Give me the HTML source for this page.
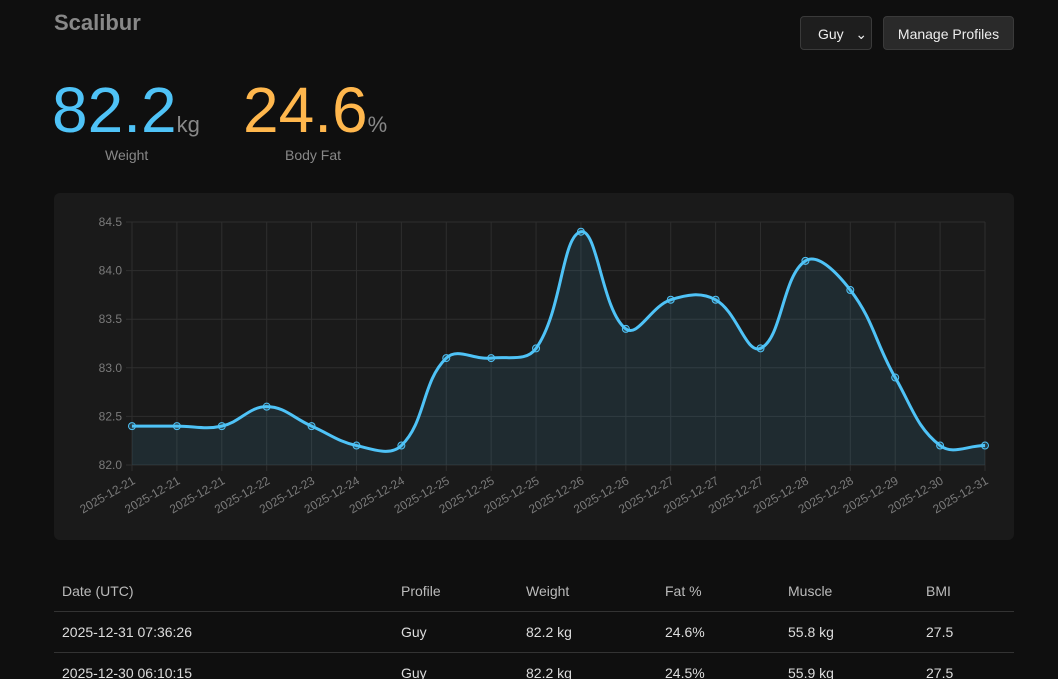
<!DOCTYPE html>
<html><head><meta charset="utf-8">
<style>
html,body{margin:0;height:679px;overflow:hidden}
body{background:#0f0f0f;width:1058px;font-family:"Liberation Sans",sans-serif;color:#ddd;position:relative}
.abs{position:absolute}
h1{position:absolute;left:54px;top:10px;margin:0;font-size:22px;font-weight:bold;color:#888}
.sel{left:800px;top:16px;width:72px;height:34px;border:1px solid #3a3a3a;background:#1e1e1e;border-radius:4px;box-sizing:border-box;font-size:14px;color:#eee;padding:9px 0 0 17px}
.btn{left:883px;top:16px;width:131px;height:34px;border:1px solid #3a3a3a;background:#2a2a2a;border-radius:4px;box-sizing:border-box;font-size:14px;color:#eee;text-align:center;padding-top:9px}
.big{font-size:64px;top:75px;line-height:70px}
.unit{font-size:22px;color:#888}
.lbl{font-size:14px;color:#888;top:147px}
.card{left:54px;top:193px;width:960px;height:347px;background:#1a1a1a;border-radius:6px}
table{position:absolute;left:54px;top:571px;width:960px;border-collapse:collapse;font-size:14px}
td,th{text-align:left;padding:0 8px;height:40px;border-bottom:1px solid #333;color:#ddd;font-weight:normal}
th{color:#bbb}
</style></head><body>
<h1>Scalibur</h1>
<div class="abs sel">Guy&nbsp;&nbsp;&nbsp;&#8964;</div>
<div class="abs btn">Manage Profiles</div>
<div class="abs big" style="left:52px;color:#4fc3f7">82.2<span class="unit">kg</span></div>
<div class="abs lbl" style="left:105px">Weight</div>
<div class="abs big" style="left:243px;color:#ffb74d">24.6<span class="unit">%</span></div>
<div class="abs lbl" style="left:285px">Body Fat</div>
<div class="abs card">
<svg id="ch" width="960" height="347"></svg>
</div>
<table>
<tr><th style="width:323px">Date (UTC)</th><th style="width:109px">Profile</th><th style="width:123px">Weight</th><th style="width:107px">Fat %</th><th style="width:122px">Muscle</th><th>BMI</th></tr>
<tr><td>2025-12-31 07:36:26</td><td>Guy</td><td>82.2 kg</td><td>24.6%</td><td>55.8 kg</td><td>27.5</td></tr>
<tr><td>2025-12-30 06:10:15</td><td>Guy</td><td>82.2 kg</td><td>24.5%</td><td>55.9 kg</td><td>27.5</td></tr>
</table>
<script>
const labels=["2025-12-21","2025-12-21","2025-12-21","2025-12-22","2025-12-23","2025-12-24","2025-12-24","2025-12-25","2025-12-25","2025-12-25","2025-12-26","2025-12-26","2025-12-27","2025-12-27","2025-12-27","2025-12-28","2025-12-28","2025-12-29","2025-12-30","2025-12-31"];
const weights=[82.4,82.4,82.4,82.6,82.4,82.2,82.2,83.1,83.1,83.2,84.4,83.4,83.7,83.7,83.2,84.1,83.8,82.9,82.2,82.2];
const yTicks=[82.0,82.5,83.0,83.5,84.0,84.5];
const NS="http://www.w3.org/2000/svg";
const svg=document.getElementById('ch');
const X0=78,X1=931,Y0=272,Y1=29,ymin=82,ymax=84.5;
const x=i=>X0+(X1-X0)*i/(labels.length-1);
const y=v=>Y0-(v-ymin)/(ymax-ymin)*(Y0-Y1);
function mk(t,a){const e=document.createElementNS(NS,t);for(const k in a)e.setAttribute(k,a[k]);svg.appendChild(e);return e;}
yTicks.forEach(t=>{
 const l=mk('line',{x1:X0-6,x2:X1,y1:y(t),y2:y(t),stroke:'#2e2e2e'});
 
 
 const tx=mk('text',{x:X0-10,y:y(t)+4,'text-anchor':'end',fill:'#7a7a7a','font-size':12,'font-family':'Liberation Sans'});
 tx.textContent=t.toFixed(1);
 
 
});
labels.forEach((d,i)=>{
 const l=mk('line',{x1:x(i),x2:x(i),y1:Y1,y2:Y0+6,stroke:'#2e2e2e'});
 
 
 const tx=mk('text',{x:0,y:0,'text-anchor':'end',fill:'#7a7a7a','font-size':12,'font-family':'Liberation Sans',transform:`translate(${x(i)+4},${Y0+18}) rotate(-30)`});
 tx.textContent=d;
 
 
});
const P=weights.map((v,i)=>[x(i),y(v)]);
const T=0.4;let d=`M${P[0][0]},${P[0][1]}`;
const cps=P.map((p,i)=>{
 const a=P[Math.max(0,i-1)],c=P[Math.min(P.length-1,i+1)];
 const d01=Math.hypot(p[0]-a[0],p[1]-a[1]),d12=Math.hypot(c[0]-p[0],c[1]-p[1]);
 let fa=d01/(d01+d12)||0,fb=d12/(d01+d12)||0;fa*=T;fb*=T;
 return {prev:[p[0]-fa*(c[0]-a[0]),p[1]-fa*(c[1]-a[1])],next:[p[0]+fb*(c[0]-a[0]),p[1]+fb*(c[1]-a[1])]};
});
for(let i=1;i<P.length;i++){const c1=cps[i-1].next,c2=cps[i].prev;d+=` C${c1[0]},${c1[1]} ${c2[0]},${c2[1]} ${P[i][0]},${P[i][1]}`;}
const area=mk('path',{d:d+` L${X1},${Y0} L${X0},${Y0} Z`,fill:'rgba(79,195,247,0.1)'});


const line=mk('path',{d:d,fill:'none',stroke:'#4fc3f7','stroke-width':3});


P.forEach(p=>{
 const c=mk('circle',{cx:p[0],cy:p[1],r:3.5,fill:'rgba(79,195,247,0.2)',stroke:'#4fc3f7','stroke-width':1});
 
 
});
</script>
</body></html>
